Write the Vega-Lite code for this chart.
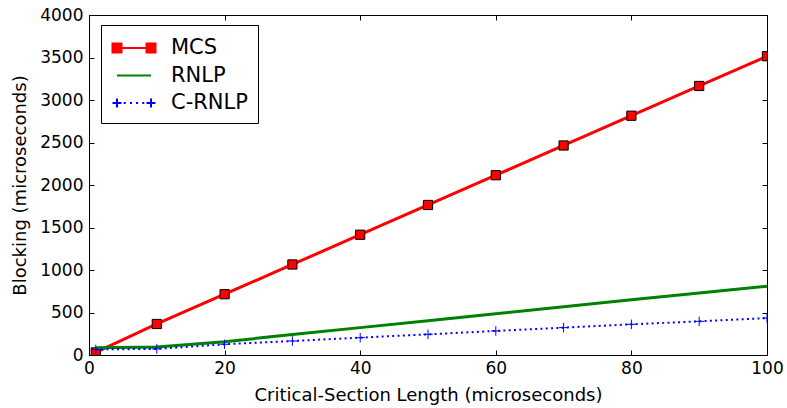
{
  "$schema": "https://vega.github.io/schema/vega-lite/v6.json",
  "width": 678,
  "height": 340,
  "autosize": "none",
  "padding": {"left": 89, "top": 15, "right": 20, "bottom": 53},
  "background": "white",
  "config": {
    "view": {"stroke": "black", "strokeWidth": 1},
    "font": "DejaVu Sans",
    "axis": {
      "grid": false,
      "domainColor": "black",
      "tickColor": "black",
      "tickSize": -5,
      "labelFlush": false,
      "labelOverlap": false,
      "labelFontSize": 17,
      "labelColor": "black",
      "titleFontSize": 18,
      "titleFontWeight": "normal",
      "titleColor": "black",
      "labelFont": "DejaVu Sans",
      "titleFont": "DejaVu Sans"
    }
  },
  "data": {
    "values": [
      {"series": "MCS", "x": 1, "y": 30},
      {"series": "MCS", "x": 10, "y": 365},
      {"series": "MCS", "x": 20, "y": 715},
      {"series": "MCS", "x": 30, "y": 1065},
      {"series": "MCS", "x": 40, "y": 1415},
      {"series": "MCS", "x": 50, "y": 1765},
      {"series": "MCS", "x": 60, "y": 2115},
      {"series": "MCS", "x": 70, "y": 2465},
      {"series": "MCS", "x": 80, "y": 2815},
      {"series": "MCS", "x": 90, "y": 3165},
      {"series": "MCS", "x": 100, "y": 3515},
      {"series": "RNLP", "x": 1, "y": 85},
      {"series": "RNLP", "x": 10, "y": 95},
      {"series": "RNLP", "x": 20, "y": 157},
      {"series": "RNLP", "x": 30, "y": 240},
      {"series": "RNLP", "x": 40, "y": 322},
      {"series": "RNLP", "x": 50, "y": 404},
      {"series": "RNLP", "x": 60, "y": 486},
      {"series": "RNLP", "x": 70, "y": 568},
      {"series": "RNLP", "x": 80, "y": 650},
      {"series": "RNLP", "x": 90, "y": 730},
      {"series": "RNLP", "x": 100, "y": 810},
      {"series": "C-RNLP", "x": 1, "y": 65},
      {"series": "C-RNLP", "x": 10, "y": 72},
      {"series": "C-RNLP", "x": 20, "y": 126},
      {"series": "C-RNLP", "x": 30, "y": 165},
      {"series": "C-RNLP", "x": 40, "y": 204},
      {"series": "C-RNLP", "x": 50, "y": 243},
      {"series": "C-RNLP", "x": 60, "y": 283},
      {"series": "C-RNLP", "x": 70, "y": 322},
      {"series": "C-RNLP", "x": 80, "y": 361},
      {"series": "C-RNLP", "x": 90, "y": 396},
      {"series": "C-RNLP", "x": 100, "y": 435}
    ]
  },
  "layer": [
    {
      "encoding": {
        "x": {"field": "x", "type": "quantitative", "scale": {"domain": [0, 100], "nice": false},
              "axis": {"title": "Critical-Section Length (microseconds)", "values": [0, 20, 40, 60, 80, 100], "format": "d", "labelPadding": 10, "titlePadding": 10}},
        "y": {"field": "y", "type": "quantitative", "scale": {"domain": [0, 4000], "nice": false},
              "axis": {"title": "Blocking (microseconds)", "values": [0, 500, 1000, 1500, 2000, 2500, 3000, 3500, 4000], "format": "d", "labelPadding": 11, "titlePadding": 10}}
      },
      "layer": [
        {"transform": [{"filter": "datum.series === 'MCS'"}], "mark": {"type": "line", "color": "#ff0000", "strokeWidth": 3, "clip": true}},
        {"transform": [{"filter": "datum.series === 'MCS'"}], "mark": {"type": "point", "shape": "square", "size": 85, "filled": true, "fill": "#ff0000", "stroke": "black", "strokeWidth": 1, "opacity": 1, "clip": true}},
        {"transform": [{"filter": "datum.series === 'RNLP'"}], "mark": {"type": "line", "color": "#008000", "strokeWidth": 3, "clip": true}},
        {"transform": [{"filter": "datum.series === 'C-RNLP'"}], "mark": {"type": "line", "color": "#0000ff", "strokeWidth": 2, "strokeDash": [2, 3.3], "clip": true}},
        {"transform": [{"filter": "datum.series === 'C-RNLP'"}], "mark": {"type": "point", "shape": "M-1,0H1M0,-1V1", "size": 90, "filled": false, "stroke": "#0000ff", "strokeWidth": 1, "opacity": 1, "clip": true}},
        {
          "mark": {"type": "point", "filled": true, "opacity": 0},
          "encoding": {
            "color": {"field": "series", "type": "nominal",
              "scale": {"domain": ["MCS", "RNLP", "C-RNLP"], "range": ["#ff0000", "#008000", "#0000ff"]},
              "legend": {
                "title": null, "orient": "none", "legendX": 12, "legendY": 10,
                "strokeColor": "black", "fillColor": "white", "padding": 10,
                "labelFontSize": 21, "labelFont": "DejaVu Sans", "labelColor": "black",
                "symbolSize": 576, "symbolStrokeWidth": 2, "symbolOpacity": 1, "symbolOffset": 10,
                "labelOffset": 24, "rowPadding": 4.5, "cornerRadius": 0,
                "encode": {"symbols": {"update": {"stroke": {"scale": "color", "field": "value"}, "strokeWidth": {"value": 2}, "opacity": {"value": 1}}}}
              }
            },
            "shape": {"field": "series", "type": "nominal",
              "scale": {"domain": ["MCS", "RNLP", "C-RNLP"], "range": [
                "M-1.417,0H1.417M-1.792,-0.375H-1.042V0.375H-1.792ZM1.042,-0.375H1.792V0.375H1.042Z",
                "M-1.417,0H1.417",
                "M-1.792,0H-1.042M-1.417,-0.375V0.375M1.042,0H1.792M1.417,-0.375V0.375M-0.86,0H-0.69M-0.34,0H-0.17M0.17,0H0.34M0.69,0H0.86"
              ]},
              "legend": null
            }
          }
        }
      ]
    },
    {
      "mark": {"type": "point", "opacity": 0},
      "encoding": {
        "x": {"field": "x", "type": "quantitative", "scale": {"domain": [0, 100], "nice": false},
              "axis": {"orient": "top", "labels": false, "title": null, "values": [0, 20, 40, 60, 80, 100]}},
        "y": {"field": "y", "type": "quantitative", "scale": {"domain": [0, 4000], "nice": false},
              "axis": {"orient": "right", "labels": false, "title": null, "values": [0, 500, 1000, 1500, 2000, 2500, 3000, 3500, 4000]}}
      }
    }
  ],
  "resolve": {"axis": {"x": "independent", "y": "independent"}}
}
